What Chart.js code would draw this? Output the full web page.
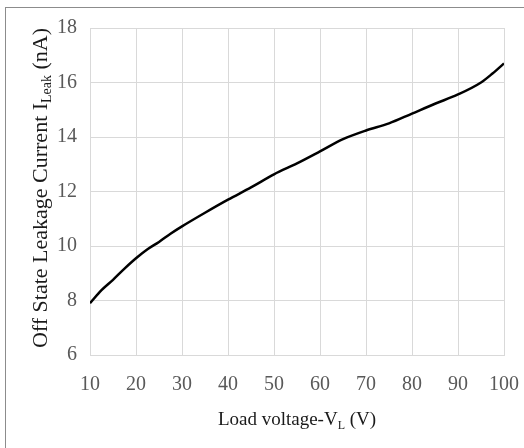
<!DOCTYPE html>
<html>
<head>
<meta charset="utf-8">
<script src="https://cdn.jsdelivr.net/npm/chart.js@4.4.1/dist/chart.umd.min.js"></script>
<style>
  html, body { margin: 0; padding: 0; background: #fff; overflow: hidden; }
  #frame {
    position: absolute; left: 5px; top: 7px; width: 600px; height: 500px;
    border: 1px solid #8c8c8c; box-sizing: border-box;
  }
  #wrap { position: absolute; left: 0; top: 0; width: 524px; height: 448px; }
</style>
</head>
<body>
<div id="frame"></div>
<div id="wrap"><canvas id="leakChart" width="524" height="448"></canvas></div>
<script>
// load voltage (V) and off-state leakage current (nA)
const loadVoltage = [10, 12.5, 15, 17.5, 20, 22.5, 25, 27.5, 30, 35, 40, 45, 50, 55, 60, 65, 70, 75, 80, 85, 90, 95, 97.5, 100];
const leakCurrent = [7.9, 8.38, 8.76, 9.17, 9.55, 9.88, 10.15, 10.45, 10.72, 11.22, 11.7, 12.15, 12.63, 13.03, 13.47, 13.92, 14.24, 14.5, 14.86, 15.22, 15.56, 16.0, 16.33, 16.7];
const xTicks = [10, 20, 30, 40, 50, 60, 70, 80, 90, 100];
const yTicks = [6, 8, 10, 12, 14, 16, 18];

const FONT = "'Liberation Serif', 'DejaVu Serif', serif";

// draws the axis titles with their subscripts
const axisTitles = {
  id: "axisTitles",
  afterDraw(chart) {
    const ctx = chart.ctx;
    const area = chart.chartArea;

    function drawParts(parts, cx, baseY) {
      let total = 0;
      parts.forEach((p) => {
        ctx.font = p.size + "px " + FONT;
        p.w = ctx.measureText(p.text).width;
        total += p.w;
      });
      let x = cx - total / 2;
      parts.forEach((p) => {
        ctx.font = p.size + "px " + FONT;
        ctx.fillText(p.text, x, baseY + (p.shift || 0));
        x += p.w;
      });
    }

    ctx.save();
    ctx.fillStyle = "#1a1a1a";
    ctx.textBaseline = "alphabetic";
    ctx.textAlign = "left";

    drawParts(
      [
        { text: "Load voltage-V", size: 19 },
        { text: "L", size: 12, shift: 4 },
        { text: " (V)", size: 19 },
      ],
      (area.left + area.right) / 2,
      425
    );

    ctx.translate(47, 188);
    ctx.rotate(-Math.PI / 2);
    drawParts(
      [
        { text: "Off State Leakage Current I", size: 22 },
        { text: "Leak", size: 14, shift: 4 },
        { text: " (nA)", size: 22 },
      ],
      0,
      0
    );
    ctx.restore();
  },
};

const points = loadVoltage.map((v, i) => ({ x: v, y: leakCurrent[i] }));

new Chart(document.getElementById("leakChart"), {
  type: "line",
  data: {
    datasets: [
      {
        data: points,
        borderColor: "#000",
        borderWidth: 2.5,
        pointRadius: 0,
        cubicInterpolationMode: "monotone",
        fill: false,
      },
    ],
  },
  options: {
    responsive: false,
    animation: false,
    layout: { padding: { left: 0, right: 0, top: 28, bottom: 0 } },
    plugins: { legend: { display: false }, tooltip: { enabled: false } },
    scales: {
      x: {
        type: "linear",
        min: 10,
        max: 100,
        afterBuildTicks: (scale) => {
          scale.ticks = xTicks.map((v) => ({ value: v }));
        },
        afterFit: (scale) => {
          scale.height = 93;
          scale.paddingLeft = 0;
          scale.paddingRight = 20;
        },
        grid: { color: "#d9d9d9", lineWidth: 1, drawTicks: false },
        border: { color: "#d9d9d9" },
        ticks: { color: "#595959", font: { family: FONT, size: 20 }, padding: 18, maxRotation: 0 },
      },
      y: {
        type: "linear",
        min: 6,
        max: 18,
        afterBuildTicks: (scale) => {
          scale.ticks = yTicks.map((v) => ({ value: v }));
        },
        afterFit: (scale) => {
          scale.width = 90;
          scale.paddingTop = 0;
          scale.paddingBottom = 0;
        },
        grid: { color: "#d9d9d9", lineWidth: 1, drawTicks: false },
        border: { color: "#d9d9d9" },
        ticks: { color: "#595959", font: { family: FONT, size: 20 }, padding: 13 },
      },
    },
  },
  plugins: [axisTitles],
});
</script>
</body>
</html>
